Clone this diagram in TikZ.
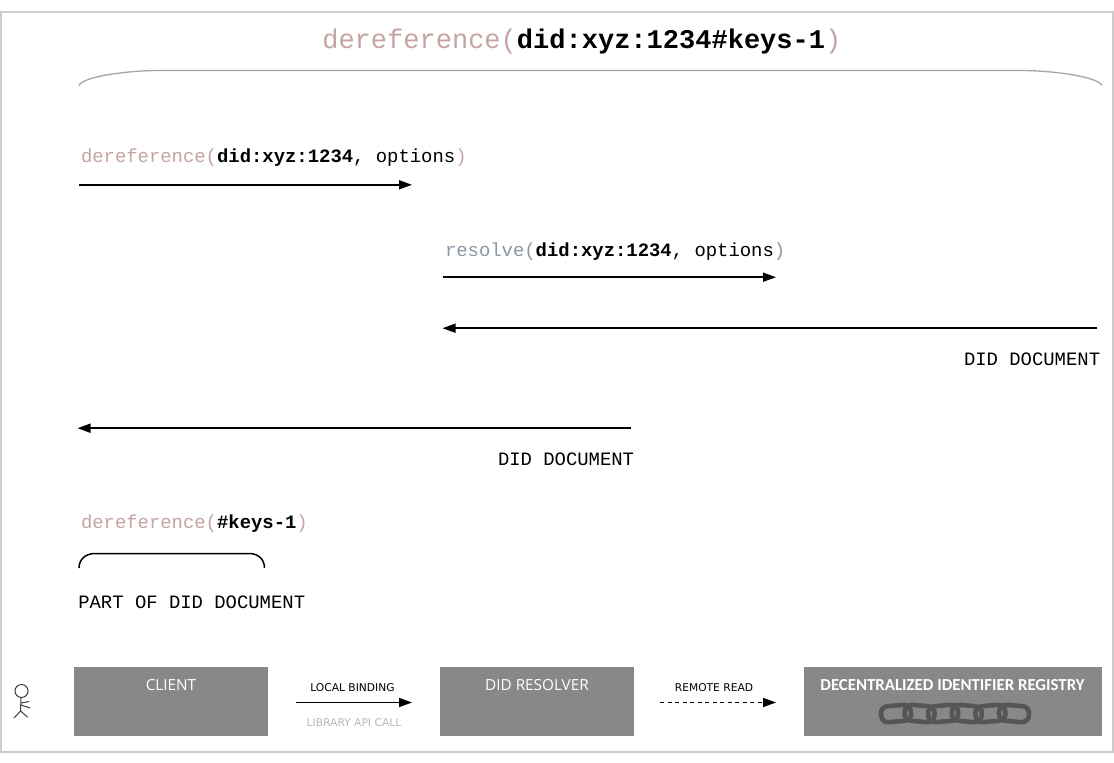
\documentclass[tikz,border=0pt]{standalone}
\usepackage{fontspec}
\setmonofont{Liberation Mono}
\setsansfont{Open Sans}
\newfontfamily\labelfont{DejaVu Sans}
\newfontfamily\regfont{Carlito}
\usetikzlibrary{arrows.meta}
\definecolor{derefc}{HTML}{C4A4A4}
\definecolor{resolvc}{HTML}{8C97A6}
\definecolor{boxc}{HTML}{888888}
\definecolor{framec}{HTML}{CCCCCC}
\definecolor{chainc}{HTML}{555555}
\tikzset{
  x=1pt,y=-1pt,
  flow/.style={line width=1.6pt,-{Triangle[length=13pt,width=9pt]}},
  monotext/.style={anchor=base west,inner sep=0pt,outer sep=0pt,font=\fontsize{18.9pt}{22pt}\selectfont\ttfamily},
  titletext/.style={anchor=base west,inner sep=0pt,outer sep=0pt,font=\fontsize{27.03pt}{32pt}\selectfont\ttfamily},
  comp/.style={fill=boxc,draw=none,inner sep=0pt,anchor=north west,minimum height=68.5pt},
  boxlabel/.style={anchor=base,inner sep=0pt,text=white,font=\fontsize{15.3pt}{18pt}\selectfont\sffamily},
  smalllabel/.style={anchor=base,inner sep=0pt,font=\fontsize{10.7pt}{13pt}\selectfont\labelfont},
  chainlink/.style={draw=chainc,line width=4.6pt,rounded corners=7pt,fill=none},
}
\newcommand{\dr}[1]{\textcolor{derefc}{#1}}
\newcommand{\rs}[1]{\textcolor{resolvc}{#1}}
\begin{document}
\begin{tikzpicture}
\useasboundingbox (0,0) rectangle (1114,763);
\fill[white] (0,0) rectangle (1114,763);
\draw[framec,line width=2pt] (0.5,11.5) rectangle (1113,752);

\node[titletext] (title) at (322.3,48) {\dr{dereference(}\textbf{did:xyz:1234\#keys-1}\dr{)}};
\coordinate (bigL) at (79,85.5);
\coordinate (bigR) at (1102,85.5);
\draw[color=black!35,line width=1.3pt] (bigL) .. controls (82,77) and (125,70.5) .. (160,70.5) -- (1020,70.5) .. controls (1055,70.5) and (1098,77) .. (bigR);

\node[monotext] (t1) at (81,162) {\dr{dereference(}\textbf{did:xyz:1234}, options\dr{)}};
\coordinate (a1s) at (78.5,184.8); \coordinate (a1e) at (412,184.8);
\draw[flow] (a1s) -- (a1e);

\node[monotext] (t2) at (445,256) {\rs{resolve(}\textbf{did:xyz:1234}, options\rs{)}};
\coordinate (a2s) at (442.5,277.2); \coordinate (a2e) at (776,277.2);
\draw[flow] (a2s) -- (a2e);

\coordinate (a3s) at (1097,328.2); \coordinate (a3e) at (442.5,328.2);
\draw[flow] (a3s) -- (a3e);
\node[monotext] (t3) at (964,365) {DID DOCUMENT};

\coordinate (a4s) at (631,428.2); \coordinate (a4e) at (77.5,428.2);
\draw[flow] (a4s) -- (a4e);
\node[monotext] (t4) at (498,465) {DID DOCUMENT};

\node[monotext] (t5) at (81,528) {\dr{dereference(}\textbf{\#keys-1}\dr{)}};
\coordinate (smL) at (79,568); \coordinate (smR) at (264.5,568);
\draw[black,line width=1.5pt] (smL) .. controls (79,559) and (86,553.5) .. (95,553.5) -- (249,553.5) .. controls (258,553.5) and (264.5,559) .. (smR);
\node[monotext] (t6) at (78.3,608) {PART OF DID DOCUMENT};

% stick figure
\draw[color=black!75,line width=1pt,line cap=round] (21.5,691) circle (6.5);
\draw[color=black!75,line width=1pt,line cap=round] (21,697.5) -- (20.5,711) (20.5,711) -- (14,718) (20.5,711) -- (27.5,717)
  (21,703) -- (29,701.5) (21,705) -- (30,708);

\node[comp,minimum width=194pt] (client) at (74,667) {};
\node[comp,minimum width=194pt] (resolver) at (440,667) {};
\node[comp,minimum width=298pt] (registry) at (804,667) {};
\node[boxlabel] (clab) at (171,690) {CLIENT};
\node[boxlabel] (rlab) at (537,690) {DID RESOLVER};
\node[boxlabel,font=\fontsize{16.8pt}{19pt}\selectfont\regfont\bfseries] (glab) at (952.5,690) {DECENTRALIZED IDENTIFIER REGISTRY};

\foreach \i in {0,...,5}{
  \pgfmathsetmacro{\cx}{896+23.6*\i}
  \pgfmathsetmacro{\ang}{(-1)^\i*5}
  \draw[chainlink,rotate around={\ang:(\cx,713.5)}] (\cx-15,705.5) rectangle (\cx+15,721.5);
}

\coordinate (b1s) at (296,702.5); \coordinate (b1e) at (412,702.5);
\draw[flow] (b1s) -- (b1e);
\node[smalllabel] (l1) at (352.5,691) {LOCAL BINDING};
\node[smalllabel,text=black!28] (l2) at (354,726) {LIBRARY API CALL};
\coordinate (b2s) at (660,702.5); \coordinate (b2e) at (776,702.5);
\draw[flow,dash pattern=on 4pt off 3.5pt] (b2s) -- (b2e);
\node[smalllabel] (l3) at (714,691) {REMOTE READ};
\end{tikzpicture}
\end{document}
